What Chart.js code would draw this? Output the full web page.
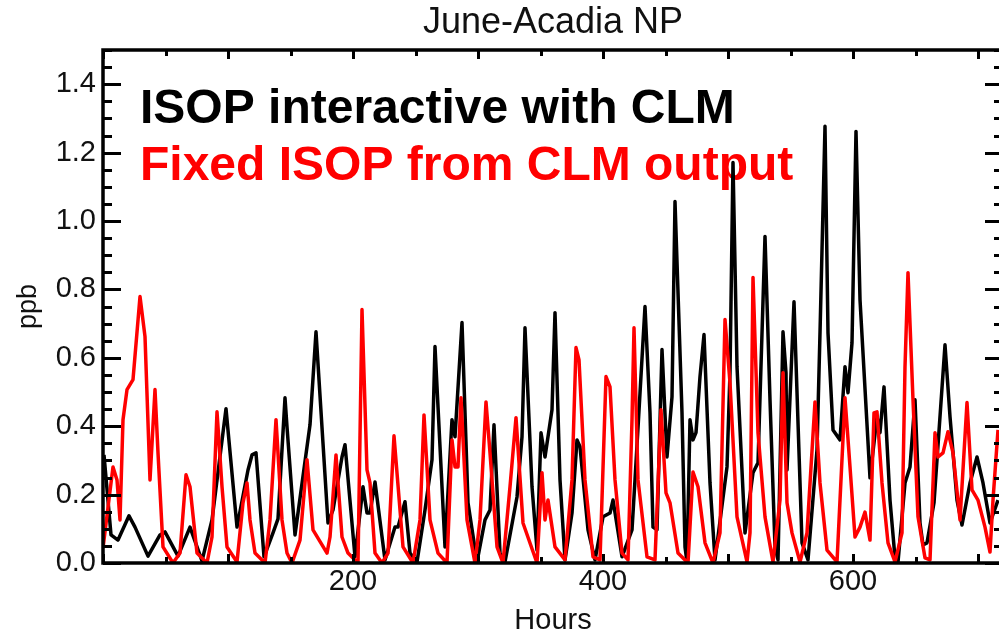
<!DOCTYPE html>
<html><head><meta charset="utf-8">
<script src="https://cdn.jsdelivr.net/npm/chart.js@4.4.1/dist/chart.umd.min.js"></script>
<style>html,body{margin:0;padding:0;background:#fff;overflow:hidden;width:999px;height:635px}</style>
</head><body>
<canvas id="c" width="1003" height="635"></canvas>
<script>
// ---- data ----
const hoursInteractive = [0.8,6.4,12,20.8,25.6,36,45.6,49.6,60,69.6,79.2,87.2,98.4,107.2,116,119.2,122.4,128.8,136,140,145.6,147.2,153.6,165.6,170.4,180,184,191.2,193.6,201.6,208,211.2,213.6,217.6,225.6,233.6,236,241.6,245.6,251.2,257.6,263.2,265.6,273.6,279.2,281.6,287.2,292,299.2,305.6,309.6,312.8,317.6,321.6,331.2,335.2,337.6,343.2,347.2,350.4,353.6,359.2,361.6,365.6,369.6,375.2,379.2,381.6,388,393.6,400,405.6,408,415.2,423.2,425.6,433.6,437.6,440,443.2,447.2,451.2,455.2,457.6,463.2,465.6,467.2,469.6,472,474.4,477.6,480.8,485.6,489.6,499.2,501.6,504,507.2,513.6,520,524,529.6,533.6,537.6,540,544,546.4,547.2,552.8,559.2,564,571.2,573.6,577.6,580,584,589.6,593.6,596,599.2,602.4,605.6,613.6,619.2,621.6,624.8,629.6,633.6,636,641.6,645.6,649.6,653.6,656,659.2,664.8,669.6,673.6,677.6,683.2,687.2,693.6,699.2,704,709.6,716];
const ppbInteractive = [0.316,0.082,0.067,0.138,0.105,0.020,0.082,0.091,0.020,0.105,0.006,0.126,0.451,0.105,0.272,0.316,0.322,0.018,0.088,0.129,0.483,0.398,0.082,0.404,0.676,0.117,0.155,0.310,0.346,0.018,0.223,0.146,0.146,0.237,0.009,0.105,0.105,0.179,0.029,0.003,0.155,0.302,0.633,0.047,0.419,0.369,0.703,0.176,0.003,0.126,0.155,0.404,0.029,0.003,0.193,0.369,0.688,0.223,0.038,0.381,0.310,0.448,0.732,0.243,0.009,0.146,0.360,0.340,0.097,0.009,0.135,0.146,0.184,0.018,0.097,0.243,0.750,0.439,0.105,0.097,0.624,0.310,0.486,1.057,0.439,0.047,0.003,0.419,0.360,0.381,0.545,0.668,0.234,0.009,0.281,0.556,1.171,0.574,0.088,0.264,0.293,0.955,0.477,0.047,0.009,0.676,0.556,0.272,0.764,0.059,0.009,0.331,0.673,1.277,0.673,0.389,0.360,0.574,0.498,0.644,1.262,0.770,0.249,0.428,0.381,0.515,0.184,0.015,0.003,0.234,0.281,0.477,0.117,0.053,0.059,0.176,0.428,0.638,0.428,0.184,0.111,0.234,0.310,0.234,0.117,0.184];
const hoursFixed = [0,8,11.2,13.6,16,19.2,24,29.6,33.6,37.6,41.6,44,48,56,61.6,66.4,69.6,75.2,83.2,87.2,91.2,95.2,99.2,107.2,112,115.2,117.6,121.6,129.6,133.6,138.4,143.2,147.2,151.2,157.6,163.2,168,179.2,181.6,186.4,191.2,196,204,207.2,211.2,213.6,217.6,223.2,228,232.8,240,248,253.6,256.8,261.6,268,275.2,279.2,281.6,284,286.4,291.2,297.6,301.6,306.4,309.6,315.2,320,325.6,330.4,336,347.2,351.2,353.6,356,361.6,369.6,375.2,378.4,380.8,385.6,392,397.6,402.4,405.6,409.6,415.2,420,423.2,424.8,428,435.2,441.6,446.4,450.4,453.6,460,468,472,476,481.6,488,493.6,497.6,501.6,507.2,515.2,517.6,520,524,529.6,536,541.6,544,547.2,551.2,557.6,563.2,569.6,573.6,579.2,587.2,589.6,593.6,597.6,601.6,605.6,609.6,613.6,616.8,619.2,623.2,628,633.6,639.2,641.6,644,648,652,657.6,661.6,665.6,668,672,676,680,685.6,691.2,695.2,700,705.6,709.6,712,716];
const ppbFixed = [0.044,0.281,0.243,0.126,0.419,0.507,0.536,0.779,0.662,0.243,0.507,0.322,0.047,0,0.029,0.258,0.223,0.029,0,0.076,0.442,0.223,0.047,0.003,0.176,0.234,0.126,0.029,0,0.126,0.419,0.126,0.029,0,0.067,0.302,0.097,0.029,0.076,0.316,0.076,0.029,0,0.741,0.272,0.234,0.029,0,0.029,0.372,0.047,0,0.126,0.433,0.126,0.029,0,0.360,0.281,0.281,0.483,0.126,0,0.126,0.471,0.322,0.047,0,0.223,0.425,0.117,0,0.264,0.126,0.184,0.047,0.009,0.243,0.630,0.594,0.243,0.018,0.009,0.545,0.515,0.243,0.029,0.009,0.419,0.688,0.243,0.018,0.009,0.448,0.205,0.176,0.029,0,0.266,0.223,0.059,0,0.088,0.712,0.527,0.135,0.003,0.088,0.835,0.381,0.135,0.003,0.184,0.556,0.176,0.088,0.003,0.088,0.471,0.234,0.038,0.003,0.184,0.483,0.281,0.076,0.105,0.149,0.067,0.439,0.442,0.234,0.059,0.003,0.088,0.574,0.849,0.477,0.135,0.015,0.009,0.381,0.310,0.322,0.384,0.322,0.126,0.469,0.214,0.184,0.105,0.032,0.184,0.389];
const xTickValues = [200, 400, 600];
const yTickValues = [0, 0.2, 0.4, 0.6, 0.8, 1.0, 1.2, 1.4];
const seriesNames = ['ISOP interactive with CLM', 'Fixed ISOP from CLM output'];
const chartTitle = 'June-Acadia NP';
const xTitle = 'Hours';
const yTitle = 'ppb';

const FONT = '"Liberation Sans", Arial, Helvetica, sans-serif';

const toPoints = (xs, ys) => xs.map((x, i) => ({x: x, y: ys[i]}));

const frameTicks = {
  id: 'frameTicks',
  beforeDatasetsDraw(chart) {
    const {ctx, chartArea: a} = chart;
    ctx.save();
    ctx.font = '36px ' + FONT;
    ctx.textAlign = 'center';
    ctx.textBaseline = 'middle';
    ctx.fillStyle = '#111';
    ctx.fillText(chartTitle, (a.left + a.right) / 2, 23);
    ctx.font = 'bold 48px ' + FONT;
    ctx.textBaseline = 'alphabetic';
    ctx.textAlign = 'left';
    ctx.fillStyle = '#000000';
    ctx.fillText(seriesNames[0], 140, 123);
    ctx.fillStyle = '#ff0000';
    ctx.fillText(seriesNames[1], 140, 180);
    ctx.restore();
  },
  afterDatasetsDraw(chart) {
    const {ctx, chartArea: a, scales: {x, y}} = chart;
    ctx.save();
    ctx.strokeStyle = '#000';
    ctx.lineWidth = 3.5;
    ctx.lineCap = 'butt';
    ctx.strokeRect(a.left, a.top, a.right - a.left, a.bottom - a.top);
    ctx.lineWidth = 3;
    ctx.beginPath();
    for (let k = 0; k <= 30; k++) {
      const v = k * 0.05;
      const py = Math.round(y.getPixelForValue(v)) + 0.5;
      const len = (k % 4 === 0) ? 18 : 9;
      ctx.moveTo(a.left, py); ctx.lineTo(a.left + len, py);
      ctx.moveTo(a.right, py); ctx.lineTo(a.right - len, py);
    }
    for (let k = 0; k <= 14; k++) {
      const v = k * 50;
      const px = Math.round(x.getPixelForValue(v)) + 0.5;
      const len = (k % 2 === 0) ? 9 : 6;
      ctx.moveTo(px, a.bottom); ctx.lineTo(px, a.bottom - len);
      ctx.moveTo(px, a.top); ctx.lineTo(px, a.top + len);
    }
    ctx.stroke();
    ctx.restore();
  }
};

new Chart(document.getElementById('c'), {
  type: 'line',
  data: {
    datasets: [
      {label: seriesNames[1], data: toPoints(hoursFixed, ppbFixed), borderColor: '#ff0000', borderWidth: 3.5, borderJoinStyle: 'round', pointRadius: 0, tension: 0, fill: false, order: 0},
      {label: seriesNames[0], data: toPoints(hoursInteractive, ppbInteractive), borderColor: '#000000', borderWidth: 3.5, borderJoinStyle: 'round', pointRadius: 0, tension: 0, fill: false, order: 1}
    ]
  },
  options: {
    responsive: false,
    devicePixelRatio: 1,
    animation: false,
    events: [],
    layout: {padding: {left: 0, right: 0, top: 50, bottom: 0}},
    plugins: {
      legend: {display: false},
      tooltip: {enabled: false},
      title: {display: false}
    },
    scales: {
      x: {
        type: 'linear', min: 0, max: 720,
        afterFit: s => { s.height = 72; },
        afterBuildTicks: s => { s.ticks = xTickValues.map(v => ({value: v})); },
        ticks: {color: '#111', font: {family: FONT, size: 29}, padding: 2, maxRotation: 0, autoSkip: false},
        grid: {drawOnChartArea: false, drawTicks: false},
        border: {display: false},
        title: {display: true, text: xTitle, color: '#111', font: {family: FONT, size: 29, lineHeight: 1.0}, padding: {top: 0, bottom: 0}}
      },
      y: {
        min: 0, max: 1.5,
        afterFit: s => { s.width = 103; },
        afterBuildTicks: s => { s.ticks = yTickValues.map(v => ({value: v})); },
        ticks: {color: '#111', font: {family: FONT, size: 29}, padding: 7, callback: v => Number(v).toFixed(1)},
        grid: {drawOnChartArea: false, drawTicks: false},
        border: {display: false},
        title: {display: true, text: yTitle, color: '#111', font: {family: FONT, size: 27}, padding: {top: 12, bottom: 0}}
      }
    }
  },
  plugins: [frameTicks]
});
</script>
</body></html>
